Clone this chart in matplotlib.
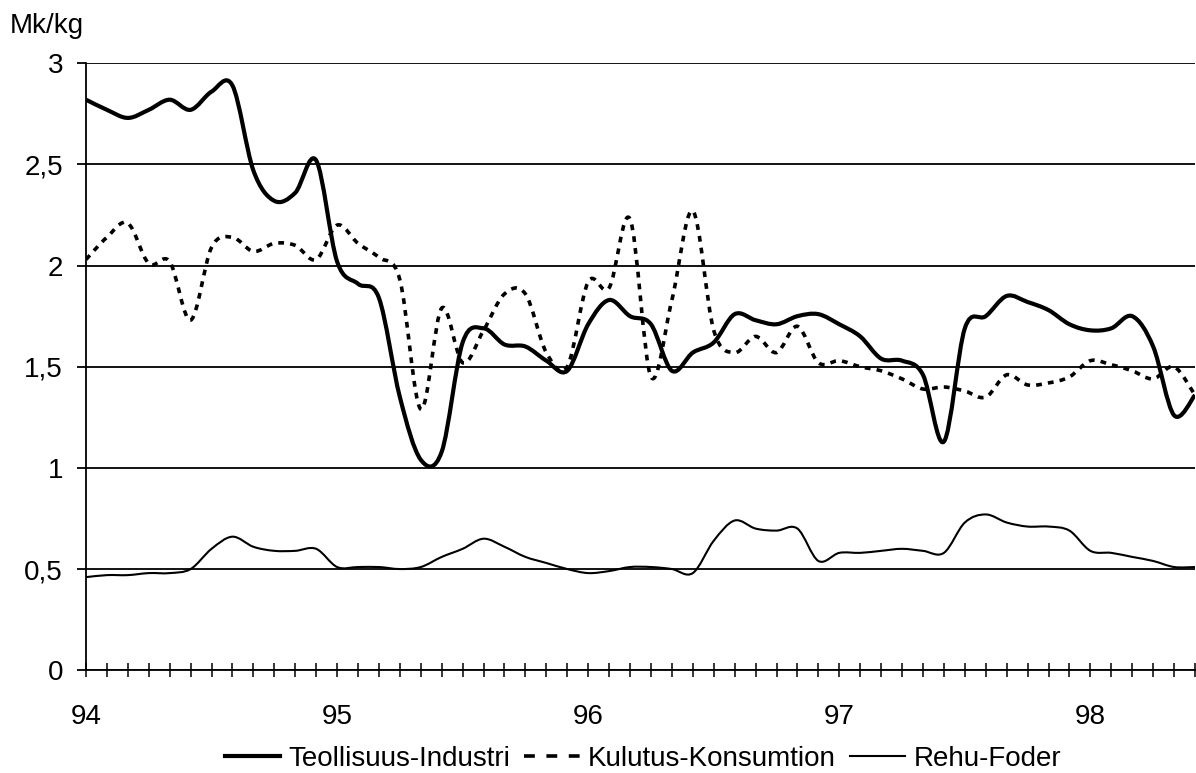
import numpy as np
import matplotlib
matplotlib.use('Agg')
import matplotlib.pyplot as plt
from matplotlib.path import Path
from matplotlib.patches import PathPatch
from matplotlib.lines import Line2D

# Monthly values, Jan 1994 .. Jun 1998 (Mk/kg)
months = np.arange(54)

industri = [2.82, 2.77, 2.73, 2.77, 2.82, 2.77, 2.86, 2.89, 2.47, 2.32, 2.36, 2.52,
            2.02, 1.91, 1.84, 1.35, 1.04, 1.08, 1.62, 1.69, 1.61, 1.60, 1.53, 1.48,
            1.71, 1.83, 1.75, 1.71, 1.48, 1.57, 1.62, 1.76, 1.73, 1.71, 1.75, 1.76,
            1.71, 1.65, 1.54, 1.53, 1.46, 1.13, 1.69, 1.75, 1.85, 1.82, 1.78, 1.71,
            1.68, 1.69, 1.75, 1.60, 1.26, 1.36]

kulutus = [2.03, 2.14, 2.21, 2.01, 2.02, 1.73, 2.09, 2.14, 2.07, 2.11, 2.10, 2.03,
           2.20, 2.11, 2.04, 1.93, 1.29, 1.79, 1.52, 1.68, 1.86, 1.86, 1.57, 1.50,
           1.92, 1.89, 2.23, 1.45, 1.83, 2.27, 1.68, 1.57, 1.65, 1.57, 1.70, 1.52,
           1.53, 1.50, 1.48, 1.44, 1.39, 1.40, 1.38, 1.35, 1.46, 1.41, 1.42, 1.45,
           1.53, 1.51, 1.48, 1.44, 1.50, 1.36]

rehu = [0.46, 0.47, 0.47, 0.48, 0.48, 0.50, 0.60, 0.66, 0.61, 0.59, 0.59, 0.60,
        0.51, 0.51, 0.51, 0.50, 0.51, 0.56, 0.60, 0.65, 0.61, 0.56, 0.53, 0.50,
        0.48, 0.49, 0.51, 0.51, 0.50, 0.48, 0.64, 0.74, 0.70, 0.69, 0.70, 0.54,
        0.58, 0.58, 0.59, 0.60, 0.59, 0.58, 0.73, 0.77, 0.73, 0.71, 0.71, 0.69,
        0.59, 0.58, 0.56, 0.54, 0.51, 0.51]

year_pos = [0, 12, 24, 36, 48]
year_labels = ['94', '95', '96', '97', '98']
y_ticks = [0, 0.5, 1, 1.5, 2, 2.5, 3]
y_labels = ['0', '0,5', '1', '1,5', '2', '2,5', '3']
series_labels = ['Teollisuus-Industri', 'Kulutus-Konsumtion', 'Rehu-Foder']

plt.rcParams['font.family'] = ['Liberation Sans', 'DejaVu Sans']
FS = 20


def smooth_path(x, y):
    """Smoothed line through the points (Catmull-Rom as cubic Bezier)."""
    pts = np.column_stack([x, y]).astype(float)
    prev = np.vstack([pts[:1], pts[:-1]])
    nxt = np.vstack([pts[1:], pts[-1:]])
    tang = (nxt - prev) / 2.0
    verts = [pts[0]]
    codes = [Path.MOVETO]
    for i in range(len(pts) - 1):
        verts += [pts[i] + tang[i] / 3.0, pts[i + 1] - tang[i + 1] / 3.0, pts[i + 1]]
        codes += [Path.CURVE4] * 3
    return Path(verts, codes)


fig = plt.figure(figsize=(11.96, 7.73), dpi=100)
ax = fig.add_axes([86 / 1196, 102.8 / 773, 1109 / 1196, 606.9 / 773])

styles = [
    dict(color='black', lw=3.0, linestyle='-'),
    dict(color='black', lw=2.6, linestyle=(0, (1.6, 1.7))),
    dict(color='black', lw=1.5, linestyle='-'),
]
for vals, st in zip([industri, kulutus, rehu], styles):
    patch = PathPatch(smooth_path(months, vals), fill=False, edgecolor=st['color'],
                      lw=st['lw'], linestyle=st['linestyle'], capstyle='butt',
                      joinstyle='round', zorder=3)
    ax.add_patch(patch)

ax.set_xlim(0, 53)
ax.set_ylim(0, 3)

ax.set_yticks(y_ticks)
ax.set_yticklabels(y_labels)
ax.set_xticks(year_pos)
ax.set_xticklabels(year_labels)
ax.set_xticks([m for m in months if m not in year_pos and m <= 53], minor=True)

ax.yaxis.grid(True, color='black', lw=1.3)
ax.set_axisbelow(True)
for side in ['top', 'right']:
    ax.spines[side].set_visible(False)
for side in ['left', 'bottom']:
    ax.spines[side].set_linewidth(1.3)

ax.tick_params(axis='y', direction='out', length=6.5, width=1.3, pad=10,
               labelsize=FS)
ax.tick_params(axis='x', which='both', direction='inout', length=10, width=1.1,
               pad=19, labelsize=FS)

fig.text(10 / 1196, (773 - 33) / 773, 'Mk/kg', fontsize=FS, va='baseline', ha='left')

# legend samples: the dotted series shows as a coarser dash in the key
legend_styles = [styles[0], dict(color='black', lw=2.6, linestyle=(0, (3.0, 3.2))),
                 styles[2]]
handles = [Line2D([], [], **st) for st in legend_styles]
fig.legend(handles, series_labels, loc='center', bbox_to_anchor=(643 / 1196, 14 / 773),
           ncol=3, frameon=False, fontsize=FS, handlelength=2.0, handletextpad=0.3,
           columnspacing=0.5, borderaxespad=0)

fig.savefig('out.png', dpi=100)
